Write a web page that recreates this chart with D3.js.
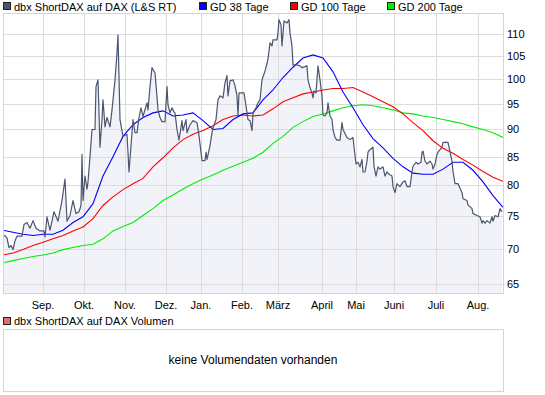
<!DOCTYPE html>
<html>
<head>
<meta charset="utf-8">
<script src="https://cdn.jsdelivr.net/npm/d3@7"></script>
<style>
  body { margin: 0; background: #fff; }
  text { font-family: "Liberation Sans", Arial, sans-serif; font-size: 11px; fill: #000; }
</style>
</head>
<body>
<div id="chart"></div>
<script>
var width = 545;
var height = 395;
var plot = { left: 3, right: 503, top: 13, bottom: 293 };
var vol = { top: 329, bottom: 391 };

// month labels sit on the first trading day of each month (trading-day index)
let monthLabels = ['Sep.', 'Okt.', 'Nov.', 'Dez.', 'Jan.', 'Feb.', 'März', 'April', 'Mai', 'Juni', 'Juli', 'Aug.'];
let monthDays = [20, 40.5, 61, 81.5, 99, 119.5, 137.5, 159.5, 176.5, 195.5, 216.5, 237.5];
let yTicks = [65, 70, 75, 80, 85, 90, 95, 100, 105, 110];

// dbx ShortDAX price
let priceDays = [0,1,2,3,4,5,6,7,9.5,10.5,12,13.5,15,16.5,18.5,20.5,21,22,23.5,25.5,27.5,29.5,31,32,33.5,35,36.5,38,39,39.5,40,41,42,42.5,43.5,44.5,46,46.5,47.5,48.5,49.5,50,51,52,53.5,54.5,56,57,57.5,58.5,60,62,62.5,63,64.5,65,66,67,68,69,70,72,72.5,73.5,74.5,76,77,77.5,78.5,79.5,81,82,82.5,83.5,84.5,85.5,86,87,88,89.5,90,91.5,92,93.5,95,97,98,99.5,101,101.5,102,103.5,104.5,105,106.5,107.5,108.5,110,111,112,112.5,113.5,115,116,117,117.5,118,120.5,121.5,122.5,123.5,124.5,125,126.5,127.5,128.5,129.5,131,132,132.5,133.5,134.5,135,137,137.5,138,139,139.5,140.5,142,143,143.5,144.5,145,147,148.5,149.5,152,152.5,153.5,154.5,155,155.5,156.5,157.5,158,158.5,159.5,160,161,162,162.5,163.5,164.5,165,166,167,168.5,169.5,170,172,173.5,175,175.5,176.5,177.5,178.5,179.5,180,181,182,182.5,183.5,185,185.5,186.5,187.5,188.5,190,191,192,193,194.5,195,196,197,198.5,200,201,202,203.5,204.5,205,206.5,207.5,209,209.5,210,211,212,213.5,214.5,215,216,217,217.5,219.5,220,222.5,223.5,224.5,225,226,227.5,229.5,230,232,232.5,234.5,235,237,238.5,239.5,240,241,242,243.5,244.5,245,246,247.5,248.5,249.5];
let priceValues = [72.0,72.0,71.6,70.2,70.5,69.9,71.2,71.9,71.9,73.7,74.0,73.1,74.3,73.1,72.7,72.7,71.8,74.9,72.8,75.7,74.2,77.5,81.1,74.2,75.1,77.5,75.4,75.7,76.7,85.4,77.5,81.6,79.4,80.6,85.0,90.0,90.0,98.5,99.9,86.7,91.9,95.8,90.5,92.3,90.5,93.8,99.9,105.7,109.8,91.9,88.7,89.1,85.8,82.3,89.4,91.9,89.4,89.4,92.3,94.2,92.5,95.2,93.8,98.5,102.5,101.4,96.4,93.8,92.3,91.5,91.5,98.5,94.8,93.2,94.2,93.4,93.2,90.0,88.0,91.7,89.8,91.9,89.4,90.9,91.7,91.3,88.9,84.3,84.3,85.8,84.5,87.0,89.4,90.3,91.9,95.8,96.6,96.2,99.3,100.8,96.6,99.7,99.9,98.7,96.6,92.8,97.2,97.2,94.6,91.9,91.7,89.8,93.2,94.2,95.2,95.8,99.9,101.8,103.4,104.4,108.0,107.3,108.7,108.7,110.3,113.4,112.2,107.3,113.1,112.6,113.4,110.3,107.3,103.1,103.1,102.9,102.5,102.9,99.9,98.3,97.2,96.2,97.6,97.2,102.9,101.4,99.9,96.6,92.8,92.6,93.2,95.2,92.6,91.9,90.0,88.5,88.0,88.0,91.3,90.0,88.5,88.1,88.5,86.8,83.7,84.0,83.2,84.5,82.3,82.3,84.2,85.8,86.3,86.7,83.3,81.6,83.2,82.8,83.2,81.6,82.3,81.9,81.6,79.8,78.8,80.3,79.8,80.6,80.8,79.8,79.8,82.3,83.3,84.0,83.7,84.0,85.8,86.0,84.2,83.7,84.2,83.7,82.8,83.7,85.4,85.8,86.7,87.6,87.6,85.9,84.2,82.4,80.3,80.3,78.8,77.8,77.5,76.8,76.2,75.4,75.1,74.9,73.9,74.3,73.9,74.3,73.9,74.9,74.2,75.1,74.9,76.2,75.7];

// moving averages, sampled every 5 trading days
let maDays = d3.range(0, 251, 5);
let gd38 = [72.8,72.5,72.2,72.0,72.2,72.2,72.8,74.0,74.9,77.0,81.6,85.0,88.7,90.9,92.3,93.2,93.6,92.6,92.8,93.2,91.7,90.0,90.2,91.9,93.0,93.2,95.8,97.8,100.4,102.6,104.6,105.3,104.6,101.6,97.4,94.2,90.9,88.3,86.6,84.7,83.2,82.1,81.9,81.9,82.8,84.0,84.0,82.6,80.6,78.3,76.4];
let gd100 = [69.1,69.4,69.9,70.5,71.0,71.5,72.0,72.7,73.3,74.6,76.7,78.1,79.3,80.3,81.2,83.2,84.8,86.6,88.1,89.1,89.8,90.7,91.9,92.6,92.8,92.6,92.8,94.0,95.4,96.2,97.0,97.4,97.8,98.1,98.1,98.3,97.4,96.4,95.4,94.4,93.0,91.3,89.8,87.9,86.5,85.6,84.5,83.5,82.4,81.4,80.7];
let gd200 = [68.0,68.3,68.6,68.9,69.1,69.4,69.9,70.2,70.5,70.7,71.5,72.7,73.4,74.0,75.1,76.2,77.5,78.4,79.4,80.3,81.1,81.8,82.6,83.3,84.0,84.7,85.8,87.4,88.7,90.4,91.5,92.5,93.0,93.6,94.2,94.6,94.8,94.6,94.2,93.8,93.2,93.0,92.6,92.3,91.9,91.5,91.1,90.5,90.0,89.4,88.5];

let legendNames = ['dbx ShortDAX auf DAX (L&S RT)', 'GD 38 Tage', 'GD 100 Tage', 'GD 200 Tage'];
let legendColors = ['#4b5570', '#0000ff', '#ff0000', '#00ee00'];
let legendX = [3, 199, 290, 387];

let scaleX = d3.scaleLinear().domain([0, 250]).range([plot.left, plot.right]);
let scaleY = d3.scaleLog().domain([63.8, 115]).range([plot.bottom, plot.top]);

let svg = d3.select('#chart')
            .append('svg')
            .attr('width', width)
            .attr('height', height);

svg.append('clipPath').attr('id', 'plotclip')
    .append('rect')
    .attr('x', plot.left).attr('y', plot.top)
    .attr('width', plot.right - plot.left).attr('height', plot.bottom - plot.top);

let price = priceDays.map((d, i) => [d, priceValues[i]]);

// light fill under the price line
svg.append('path')
    .datum(price)
    .attr('clip-path', 'url(#plotclip)')
    .attr('fill', '#f2f3f9')
    .attr('d', d3.area()
        .x(d => scaleX(d[0]))
        .y0(plot.bottom)
        .y1(d => scaleY(d[1])));

// grid on top of the fill, like the original
let grid = svg.append('g').attr('shape-rendering', 'crispEdges').attr('stroke', '#dcdcdc');
grid.selectAll('.hgrid')
    .data(yTicks)
    .enter()
    .append('line')
    .attr('x1', plot.left).attr('x2', plot.right)
    .attr('y1', d => Math.round(scaleY(d)) + 0.5)
    .attr('y2', d => Math.round(scaleY(d)) + 0.5);
grid.selectAll('.vgrid')
    .data(monthDays)
    .enter()
    .append('line')
    .attr('y1', plot.top).attr('y2', plot.bottom)
    .attr('x1', d => Math.round(scaleX(d)) + 0.5)
    .attr('x2', d => Math.round(scaleX(d)) + 0.5);

let chart = svg.append('g').attr('clip-path', 'url(#plotclip)');

let line = d3.line()
    .x(d => scaleX(d[0]))
    .y(d => scaleY(d[1]));

[[gd200, '#00ee00'], [gd100, '#ff0000'], [gd38, '#0000ff']].forEach(function(s) {
    chart.append('path')
        .datum(maDays.map((d, i) => [d, s[0][i]]))
        .attr('fill', 'none')
        .attr('stroke', s[1])
        .attr('stroke-width', 1.1)
        .attr('d', line);
});

chart.append('path')
    .datum(price)
    .attr('fill', 'none')
    .attr('stroke', '#4b5570')
    .attr('stroke-width', 1.2)
    .attr('stroke-linejoin', 'round')
    .attr('d', line);

// frame
svg.append('rect')
    .attr('x', plot.left + 0.5).attr('y', plot.top + 0.5)
    .attr('width', plot.right - plot.left).attr('height', plot.bottom - plot.top)
    .attr('fill', 'none').attr('stroke', '#d4d4d4')
    .attr('shape-rendering', 'crispEdges');

// axis labels
svg.selectAll('.ylab')
    .data(yTicks)
    .enter()
    .append('text')
    .attr('x', plot.right + 4)
    .attr('y', d => scaleY(d) + 4)
    .text(d => d);

svg.selectAll('.xlab')
    .data(monthDays)
    .enter()
    .append('text')
    .attr('x', d => scaleX(d))
    .attr('y', 309)
    .attr('text-anchor', 'middle')
    .text((d, i) => monthLabels[i]);

// legend
let legend = svg.selectAll('.legend')
    .data(legendNames)
    .enter()
    .append('g')
    .attr('transform', (d, i) => 'translate(' + legendX[i] + ',2)');
legend.append('rect')
    .attr('x', 0.5).attr('y', 0.5).attr('width', 7).attr('height', 7)
    .attr('fill', (d, i) => legendColors[i])
    .attr('stroke', '#222');
legend.append('text')
    .attr('x', 11).attr('y', 9)
    .text(d => d);

// volume panel
svg.append('rect')
    .attr('x', 3.5).attr('y', 317.5).attr('width', 7).attr('height', 7)
    .attr('fill', '#e07070').attr('stroke', '#222');
svg.append('text')
    .attr('x', 14).attr('y', 325)
    .text('dbx ShortDAX auf DAX Volumen');
svg.append('rect')
    .attr('x', plot.left + 0.5).attr('y', vol.top + 0.5)
    .attr('width', plot.right - plot.left).attr('height', vol.bottom - vol.top)
    .attr('fill', 'none').attr('stroke', '#d4d4d4')
    .attr('shape-rendering', 'crispEdges');
svg.append('text')
    .attr('x', (plot.left + plot.right) / 2)
    .attr('y', 364)
    .attr('text-anchor', 'middle')
    .style('font-size', '12px')
    .text('keine Volumendaten vorhanden');
</script>
</body>
</html>
